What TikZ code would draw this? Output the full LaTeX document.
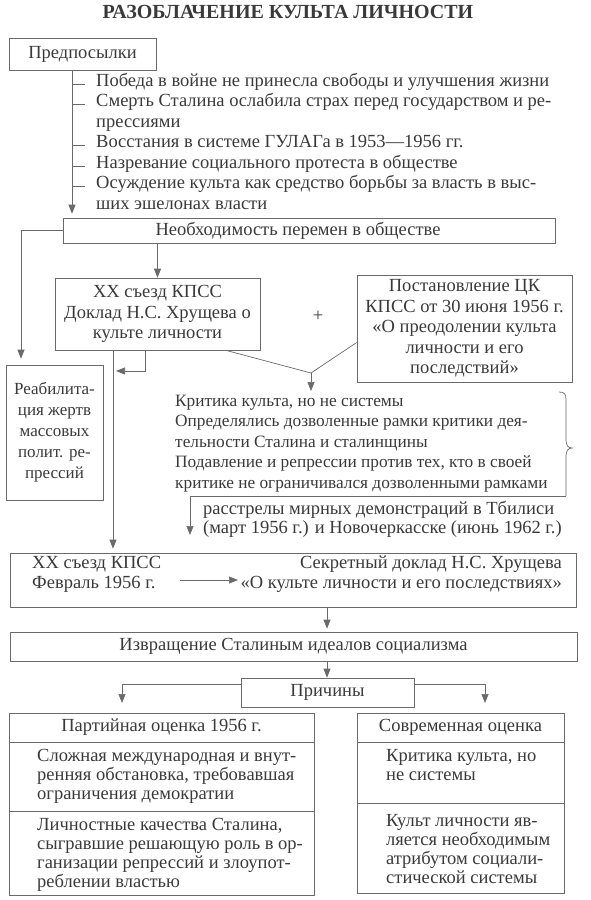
\documentclass[tikz,border=0pt]{standalone}
\usepackage{fontspec}
\setmainfont{Liberation Serif}
\usetikzlibrary{arrows.meta}
\definecolor{ink}{HTML}{3A3A3A}
\definecolor{rule}{HTML}{6A6A6A}
\begin{document}
\begin{tikzpicture}[x=1pt,y=-1pt,
  every node/.style={text=ink, inner sep=0pt, font=\fontsize{18.5}{20.5}\selectfont},
  box/.style={draw=rule, line width=0.7pt, align=center},
  arr/.style={draw=rule, line width=0.7pt, -{Triangle[length=9pt,width=7pt]}},
  ln/.style={draw=rule, line width=0.7pt},
  lt/.style={anchor=mid west},
  rt/.style={anchor=mid east},
  crit/.style={anchor=mid west, font=\fontsize{17.3}{20.5}\selectfont},
]
\fill[white] (0,0) rectangle (591,900);
\useasboundingbox (0,0) rectangle (591,900);

% title
\node[font=\bfseries\fontsize{20}{22}\selectfont] (title) at (288,12) {РАЗОБЛАЧЕНИЕ КУЛЬТА ЛИЧНОСТИ};

% prerequisites
\node[box, minimum width=147pt, minimum height=32pt] (prem) at (82.5,54) {Предпосылки};
\coordinate (sp) at (72,0);
\node[lt] (i1) at (96,84) {Победа в войне не принесла свободы и улучшения жизни};
\node[lt] (i2) at (96,104.5) {Смерть Сталина ослабила страх перед государством и ре-};
\node[lt] (i3) at (96,125) {прессиями};
\node[lt] (i4) at (96,145.5) {Восстания в системе ГУЛАГа в 1953—1956 гг.};
\node[lt] (i5) at (96,166) {Назревание социального протеста в обществе};
\node[lt] (i6) at (96,186.5) {Осуждение культа как средство борьбы за власть в выс-};
\node[lt] (i7) at (96,207) {ших эшелонах власти};
\foreach \i in {i1,i2,i4,i5,i6} \draw[ln] (\i.mid west -| sp) -- ([xshift=-11pt]\i.mid west);

\node[box, minimum width=492pt, minimum height=25pt] (need) at (309,230.5) {Необходимость перемен в обществе\hspace*{22pt}};
\draw[arr, shorten >=4pt] (prem.south -| sp) -- (need.north -| sp);

% XX congress & resolution
\node[box, minimum width=205pt, minimum height=72pt] (xx) at (157.5,314) {XX съезд КПСС\\Доклад Н.С. Хрущева о\\культе личности};
\draw[arr] (need.south -| xx.north) -- (xx.north);
\node (plus) at (318,316) {+};
\node[box, minimum width=215pt, minimum height=107pt] (post) at (464.5,328.5) {Постановление ЦК\\КПСС от 30 июня 1956 г.\\«О преодолении культа\\личности и его\\последствий»};

\coordinate (j) at (311,373);
\coordinate (xa) at (226,0);
\coordinate (jt) at (311,391);
\draw[ln] (xx.south -| xa) -- (j);
\draw[ln] ([yshift=-14pt]post.west) -- (j);
\draw[arr] (j) -- (jt);

% rehabilitation
\node[box, minimum width=97pt, minimum height=135pt, font=\fontsize{17}{21}\selectfont] (reab) at (54.5,432.5) {Реабилита-\\ция жертв\\массовых\\полит. ре-\\прессий};
\coordinate (ra) at (21,0);
\draw[arr, shorten >=6pt] (need.west) -| (reab.north -| ra);

\coordinate (v1) at (113,0);
\coordinate (v2) at (145,0);
\coordinate (ca) at (116,371);
\draw[arr] (xx.south -| v2) |- (ca);

% critique
\node[crit] (k1) at (175,404) {Критика культа, но не системы};
\node[crit] (k2) at (175,424.5) {Определялись дозволенные рамки критики дея-};
\node[crit] (k3) at (175,445) {тельности Сталина и сталинщины};
\node[crit] (k4) at (175,465.5) {Подавление и репрессии против тех, кто в своей};
\node[crit] (k5) at (175,486) {критике не ограничивался дозволенными рамками};
\coordinate (bt) at (559,392);
\coordinate (bl) at (566,496);
\coordinate (rtip) at (190,535);
\draw[ln] (bt) .. controls (564,392) and (566,394) .. (566,399) -- (566,440)
  .. controls (566,445) and (568,448) .. (572,448)
  .. controls (568,448) and (566,451) .. (566,456) -- (bl);
\draw[arr] (bl) -| (rtip);
\node[lt] (r1) at (203,512) {расстрелы мирных демонстраций в Тбилиси};
\node[lt] (r2) at (203,531) {(март 1956 г.) и Новочеркасске (июнь 1962 г.)};

% February 1956
\node[box, minimum width=566pt, minimum height=54pt] (feb) at (293,580) {};
\draw[arr, shorten >=4pt] (xx.south -| v1) -- (feb.north -| v1);
\node[lt] (fl1) at (32,566) {XX съезд КПСС};
\node[lt] (fl2) at (32,586) {Февраль 1956 г.};
\node[rt] (fr1) at (562,566) {Секретный доклад Н.С. Хрущева};
\node[rt] (fr2) at (562,586) {«О культе личности и его последствиях»};
\coordinate (fa) at (180,580);
\coordinate (fb) at (238,580);
\draw[arr] (fa) -- (fb);

% distortion
\node[box, minimum width=567pt, minimum height=29pt] (izv) at (293.5,646.5) {Извращение Сталиным идеалов социализма};
\coordinate (v3) at (327,0);
\draw[arr, shorten >=3pt] (feb.south -| v3) -- (izv.north -| v3);
\node[box, minimum width=173pt, minimum height=29pt] (prich) at (327.5,692.5) {Причины};
\draw[arr] (izv.south -| v3) -- (prich.north -| v3);
\coordinate (pl) at (122,703);
\coordinate (pr) at (485,703);
\draw[arr] ([yshift=8pt]prich.west) -| (pl);
\draw[arr] ([yshift=8pt]prich.east) -| (pr);

% party assessment
\node[box, minimum width=305pt, minimum height=182pt] (party) at (161.5,804) {};
\coordinate (s1) at (0,742);
\coordinate (s2) at (0,811);
\draw[ln] (party.west |- s1) -- (party.east |- s1);
\draw[ln] (party.west |- s2) -- (party.east |- s2);
\node (ph) at (161.5,727) {Партийная оценка 1956 г.};
\node[lt] (p1) at (37,759) {Сложная международная и внут-};
\node[lt] (p2) at (37,778) {ренняя обстановка, требовавшая};
\node[lt] (p3) at (37,797) {ограничения демократии};
\node[lt] (p4) at (37,828) {Личностные качества Сталина,};
\node[lt] (p5) at (37,847) {сыгравшие решающую роль в ор-};
\node[lt] (p6) at (37,866) {ганизации репрессий и злоупот-};
\node[lt] (p7) at (37,885) {реблении властью};

% modern assessment
\node[box, minimum width=207pt, minimum height=180pt] (modern) at (460.5,803) {};
\coordinate (s3) at (0,803);
\draw[ln] (modern.west |- s1) -- (modern.east |- s1);
\draw[ln] (modern.west |- s3) -- (modern.east |- s3);
\node (mh) at (460.5,727) {Современная оценка};
\node[lt] (m1) at (386,759) {Критика культа, но};
\node[lt] (m2) at (386,778) {не системы};
\node[lt] (m3) at (386,824) {Культ личности яв-};
\node[lt] (m4) at (386,843) {ляется необходимым};
\node[lt] (m5) at (386,862) {атрибутом социали-};
\node[lt] (m6) at (386,881) {стической системы};
\end{tikzpicture}
\end{document}
